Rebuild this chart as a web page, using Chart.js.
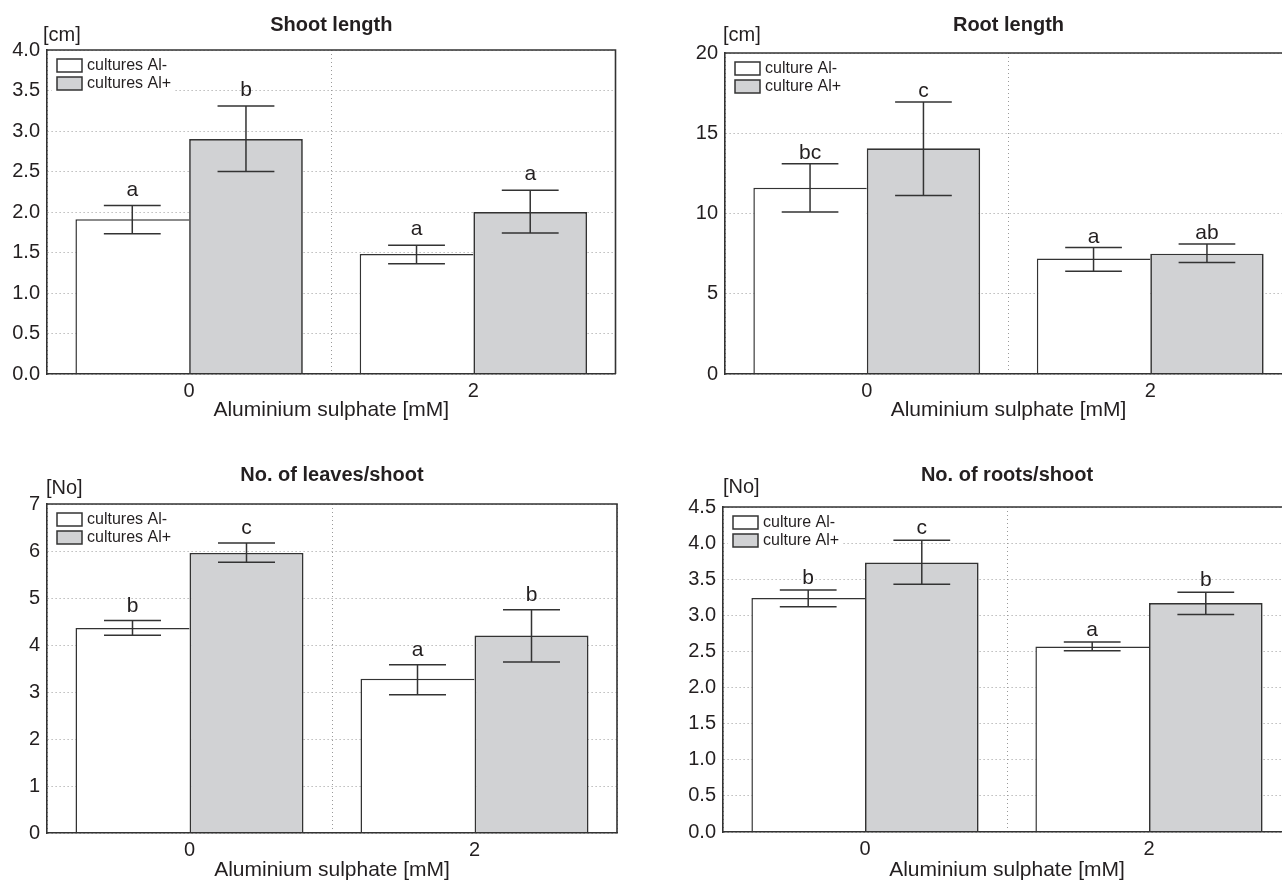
<!DOCTYPE html>
<html>
<head>
<meta charset="utf-8">
<script src="https://cdn.jsdelivr.net/npm/chart.js@4.4.1/dist/chart.umd.min.js"></script>
<style>
  html, body { margin: 0; padding: 0; background: #fff; }
  #page { position: relative; width: 1282px; height: 880px; overflow: hidden; }
  canvas { position: absolute; }
</style>
</head>
<body>
<div id="page">
  <canvas id="shoot" width="640" height="440" style="left:0;top:0"></canvas>
  <canvas id="root" width="660" height="440" style="left:640px;top:0"></canvas>
  <canvas id="leaves" width="640" height="460" style="left:0;top:440px"></canvas>
  <canvas id="roots" width="660" height="460" style="left:640px;top:440px"></canvas>
</div>
<script>
const categories = ['0', '2'];

// Shoot length [cm]
const shootTicks = ['0.0', '0.5', '1.0', '1.5', '2.0', '2.5', '3.0', '3.5', '4.0'];
const shootMinus = [1.91, 1.48];
const shootPlus = [2.90, 2.00];
const shootMinusErr = [[1.73, 2.08], [1.36, 1.59]];
const shootPlusErr = [[2.50, 3.31], [1.74, 2.27]];
const shootMinusLetters = ['a', 'a'];
const shootPlusLetters = ['b', 'a'];

// Root length [cm]
const rootTicks = ['0', '5', '10', '15', '20'];
const rootMinus = [11.6, 7.2];
const rootPlus = [14.07, 7.5];
const rootMinusErr = [[10.1, 13.1], [6.4, 7.88]];
const rootPlusErr = [[11.12, 16.95], [6.95, 8.1]];
const rootMinusLetters = ['bc', 'a'];
const rootPlusLetters = ['c', 'ab'];

// No. of leaves/shoot
const leavesTicks = ['0', '1', '2', '3', '4', '5', '6', '7'];
const leavesMinus = [4.36, 3.28];
const leavesPlus = [5.96, 4.20];
const leavesMinusErr = [[4.21, 4.52], [2.94, 3.58]];
const leavesPlusErr = [[5.76, 6.17], [3.64, 4.75]];
const leavesMinusLetters = ['b', 'a'];
const leavesPlusLetters = ['c', 'b'];

// No. of roots/shoot
const rootsTicks = ['0.0', '0.5', '1.0', '1.5', '2.0', '2.5', '3.0', '3.5', '4.0', '4.5'];
const rootsMinus = [3.24, 2.57];
const rootsPlus = [3.73, 3.17];
const rootsMinusErr = [[3.12, 3.35], [2.51, 2.63]];
const rootsPlusErr = [[3.43, 4.04], [3.01, 3.32]];
const rootsMinusLetters = ['b', 'a'];
const rootsPlusLetters = ['c', 'b'];

const FONT = "'Liberation Sans', Arial, Helvetica, sans-serif";
const INK = '#231f20';
const LINE = '#333';
const GRAY = '#d1d2d4';

Chart.defaults.font.family = FONT;
Chart.defaults.color = INK;

const decor = {
  id: 'decor',
  afterDatasetsDraw(chart, args, opts) {
    const ctx = chart.ctx;
    const area = chart.chartArea;
    const y = chart.scales.y;
    ctx.save();

    // error bars + letters
    chart.data.datasets.forEach((ds, i) => {
      chart.getDatasetMeta(i).data.forEach((bar, j) => {
        const yLo = y.getPixelForValue(ds.errors[j][0]);
        const yHi = y.getPixelForValue(ds.errors[j][1]);
        const half = bar.width / 4;
        ctx.strokeStyle = LINE;
        ctx.lineWidth = 1.5;
        ctx.beginPath();
        ctx.moveTo(bar.x, yLo); ctx.lineTo(bar.x, yHi);
        ctx.moveTo(bar.x - half, yLo); ctx.lineTo(bar.x + half, yLo);
        ctx.moveTo(bar.x - half, yHi); ctx.lineTo(bar.x + half, yHi);
        ctx.stroke();
        ctx.fillStyle = INK;
        ctx.font = '21px ' + FONT;
        ctx.textAlign = 'center';
        ctx.textBaseline = 'alphabetic';
        ctx.fillText(ds.letters[j], bar.x, yHi - opts.letterGap);
      });
    });

    // legend
    ctx.font = '16px ' + FONT;
    const lx = area.left + 10, ly = area.top + 9;
    const tw = Math.max(...chart.data.datasets.map(d => ctx.measureText(d.label).width));
    ctx.fillStyle = '#fff';
    ctx.fillRect(lx - 5, ly - 4, 30 + tw + 8, 40);
    chart.data.datasets.forEach((ds, i) => {
      const by = ly + i * 18;
      ctx.fillStyle = ds.backgroundColor;
      ctx.fillRect(lx, by, 25, 13);
      ctx.strokeStyle = LINE;
      ctx.lineWidth = 1.5;
      ctx.strokeRect(lx, by, 25, 13);
      ctx.fillStyle = INK;
      ctx.textAlign = 'left';
      ctx.textBaseline = 'middle';
      ctx.fillText(ds.label, lx + 30, by + 7);
    });
    ctx.restore();
  },
  afterDraw(chart, args, opts) {
    const ctx = chart.ctx;
    const area = chart.chartArea;
    ctx.save();
    ctx.strokeStyle = LINE;
    ctx.lineWidth = 1.6;
    ctx.beginPath();
    ctx.moveTo(area.left, area.top);
    ctx.lineTo(area.right, area.top);
    ctx.lineTo(area.right, area.bottom);
    ctx.stroke();

    ctx.fillStyle = INK;
    ctx.font = 'bold 20px ' + FONT;
    ctx.textAlign = 'center';
    ctx.textBaseline = 'middle';
    ctx.fillText(opts.title, (area.left + area.right) / 2, opts.titleY);

    ctx.font = '20px ' + FONT;
    ctx.textAlign = 'left';
    ctx.fillText(opts.unit, opts.unitX, opts.unitY);
    ctx.restore();
  }
};

function makeChart(id, d, g) {
  const canvas = document.getElementById(id);
  const H = canvas.height;
  const step = parseFloat(d.ticks[1]) - parseFloat(d.ticks[0]);
  return new Chart(canvas, {
    type: 'bar',
    data: {
      labels: categories,
      datasets: [
        {
          label: d.labels[0],
          data: d.minus,
          errors: d.minusErr,
          letters: d.minusLetters,
          backgroundColor: '#ffffff',
          borderColor: LINE,
          borderWidth: { top: 1.5, left: 1.5, right: 0, bottom: 0 },
          borderSkipped: false,
          categoryPercentage: 0.8,
          barPercentage: 1.0
        },
        {
          label: d.labels[1],
          data: d.plus,
          errors: d.plusErr,
          letters: d.plusLetters,
          backgroundColor: GRAY,
          borderColor: LINE,
          borderWidth: { top: 1.7, left: 1.7, right: 1.7, bottom: 0 },
          borderSkipped: false,
          categoryPercentage: 0.8,
          barPercentage: 1.0
        }
      ]
    },
    options: {
      responsive: false,
      animation: false,
      layout: { padding: { left: 0, right: g.padRight, top: g.top, bottom: 0 } },
      plugins: {
        legend: { display: false },
        tooltip: { enabled: false },
        decor: {
          title: d.title, titleY: g.titleY,
          unit: d.unit, unitX: g.unitX, unitY: g.unitY,
          letterGap: g.letterGap
        }
      },
      scales: {
        x: {
          grid: { color: '#9a9a9a', lineWidth: 1, drawTicks: false },
          border: { color: LINE, width: 1.6, dash: [1, 3], z: 1 },
          ticks: { font: { size: 20 }, padding: 5, color: INK },
          title: {
            display: true,
            text: 'Aluminium sulphate [mM]',
            font: { size: 21 },
            color: INK,
            padding: { top: 0, bottom: H - 12.6 - g.xTitleY }
          },
          afterFit: s => { s.height = H - g.bottom; }
        },
        y: {
          min: 0,
          max: parseFloat(d.ticks[d.ticks.length - 1]),
          grid: { color: '#9a9a9a', lineWidth: 1, drawTicks: false },
          border: { color: LINE, width: 1.6, dash: [1, 3], z: 1 },
          ticks: {
            stepSize: step,
            font: { size: 20 },
            padding: 7,
            color: INK,
            callback: v => {
              const t = d.ticks.find(l => Math.abs(parseFloat(l) - v) < 1e-6);
              return t === undefined ? '' : t;
            }
          },
          afterFit: s => { s.width = g.axisX; }
        }
      }
    },
    plugins: [decor]
  });
}

makeChart('shoot', {
  title: 'Shoot length', unit: '[cm]', ticks: shootTicks,
  labels: ['cultures Al-', 'cultures Al+'],
  minus: shootMinus, plus: shootPlus,
  minusErr: shootMinusErr, plusErr: shootPlusErr,
  minusLetters: shootMinusLetters, plusLetters: shootPlusLetters
}, { axisX: 47, padRight: 24.5, top: 50, bottom: 374, titleY: 25, unitX: 43, unitY: 35, xTitleY: 410, letterGap: 10 });

makeChart('root', {
  title: 'Root length', unit: '[cm]', ticks: rootTicks,
  labels: ['culture Al-', 'culture Al+'],
  minus: rootMinus, plus: rootPlus,
  minusErr: rootMinusErr, plusErr: rootPlusErr,
  minusLetters: rootMinusLetters, plusLetters: rootPlusLetters
}, { axisX: 85, padRight: 8, top: 53, bottom: 374, titleY: 25, unitX: 83, unitY: 35, xTitleY: 410, letterGap: 5 });

makeChart('leaves', {
  title: 'No. of leaves/shoot', unit: '[No]', ticks: leavesTicks,
  labels: ['cultures Al-', 'cultures Al+'],
  minus: leavesMinus, plus: leavesPlus,
  minusErr: leavesMinusErr, plusErr: leavesPlusErr,
  minusLetters: leavesMinusLetters, plusLetters: leavesPlusLetters
}, { axisX: 47, padRight: 23, top: 64, bottom: 393, titleY: 35, unitX: 46, unitY: 48, xTitleY: 430, letterGap: 9 });

makeChart('roots', {
  title: 'No. of roots/shoot', unit: '[No]', ticks: rootsTicks,
  labels: ['culture Al-', 'culture Al+'],
  minus: rootsMinus, plus: rootsPlus,
  minusErr: rootsMinusErr, plusErr: rootsPlusErr,
  minusLetters: rootsMinusLetters, plusLetters: rootsPlusLetters
}, { axisX: 83, padRight: 9, top: 67, bottom: 392, titleY: 35, unitX: 83, unitY: 47, xTitleY: 430, letterGap: 6 });
</script>
</body>
</html>
